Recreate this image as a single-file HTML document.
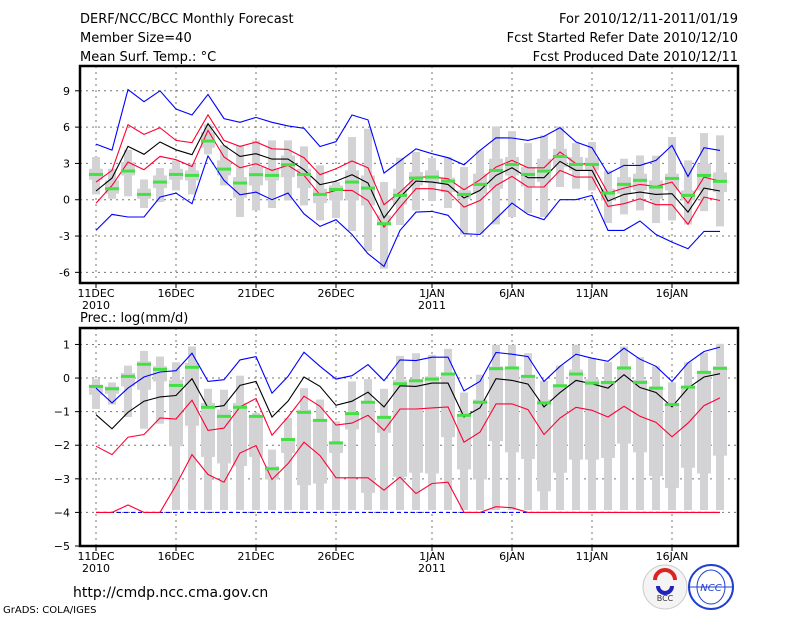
<!DOCTYPE html>
<html><head><meta charset="utf-8"><style>
body{margin:0;background:#fff;}
svg{display:block;font-family:"DejaVu Sans","Liberation Sans",sans-serif;}
</style></head><body>
<svg id="chart" width="800" height="618" viewBox="0 0 800 618">
<g id="hdr" font-size="13" fill="#000">
<text x="80" y="23">DERF/NCC/BCC Monthly Forecast</text>
<text x="80" y="42">Member Size=40</text>
<text x="80" y="61">Mean Surf. Temp.: °C</text>
<text x="738" y="23" text-anchor="end">For 2010/12/11-2011/01/19</text>
<text x="738" y="42" text-anchor="end">Fcst Started Refer Date 2010/12/10</text>
<text x="738" y="61" text-anchor="end">Fcst Produced Date 2010/12/11</text>
<text x="80" y="322">Prec.: log(mm/d)</text>
<text x="73" y="597" font-size="14">http://cmdp.ncc.cma.gov.cn</text>
<text x="3" y="613" font-size="10">GrADS: COLA/IGES</text>
</g>
<g>
<circle cx="665" cy="587" r="22" fill="#f4f4f4" stroke="#ccc"/>
<path d="M655 580 a10 10 0 1 1 20 0" fill="none" stroke="#d22" stroke-width="4"/>
<path d="M658 586 a7 7 0 1 0 14 0" fill="none" stroke="#22b" stroke-width="4"/>
<text x="665" y="601" font-size="8" text-anchor="middle" fill="#333">BCC</text>
</g>
<g>
<circle cx="711" cy="587" r="22" fill="#fff" stroke="#2040d0" stroke-width="2"/>
<ellipse cx="711" cy="587" rx="14" ry="17" fill="none" stroke="#2040d0"/>
<line x1="689" y1="587" x2="733" y2="587" stroke="#2040d0"/>
<text x="711" y="591" font-size="10" font-style="italic" text-anchor="middle" fill="#2040d0">NCC</text>
</g>
</svg>
<script>
const days=40;
const xLabels=["11DEC","16DEC","21DEC","26DEC","1JAN","6JAN","11JAN","16JAN"];
const xLabelIdx=[0,5,10,15,21,26,31,36];
const tTicks=[9,6,3,0,-3,-6];
const pTicks=[1,0,-1,-2,-3,-4,-5];
// Temperature series
const tBlueHi=[4.6,4.1,9.1,8.1,9.0,7.5,7.0,8.7,6.7,6.4,6.8,6.4,6.1,5.9,4.4,4.8,7.0,6.6,2.2,3.2,4.21,3.80,3.47,2.89,4.08,5.12,5.10,4.90,5.23,5.95,4.77,4.30,2.15,2.84,2.84,3.25,4.49,1.93,4.30,4.08];
const tRedHi=[1.46,2.42,6.2,5.4,5.95,4.9,4.71,7.02,4.9,4.41,4.77,4.21,4.16,3.47,2.07,2.56,3.2,2.64,-0.41,0.63,1.87,1.87,1.74,0.83,1.65,2.70,3.25,2.64,2.64,3.94,2.98,2.92,0.55,0.96,1.27,1.10,1.46,-0.28,1.87,1.54];
const tMean=[0.72,1.79,4.41,3.75,4.77,4.13,3.72,6.28,4.49,3.58,3.8,3.36,3.36,2.48,1.24,1.54,2.07,1.38,-1.49,0.22,1.54,1.46,1.27,0.14,0.77,2.01,2.64,1.82,1.82,3.17,2.42,2.42,-0.11,0.44,0.63,0.44,0.50,-1.02,0.96,0.72];
const tRedLo=[-0.28,1.18,3.11,2.48,3.58,3.31,2.75,5.73,3.53,2.64,2.98,2.42,2.84,2.01,0.41,0.77,0.77,-0.06,-2.26,-0.61,0.91,0.91,0.69,-0.61,-0.06,1.18,1.93,1.05,1.05,2.42,1.87,1.87,-0.55,-0.33,0.08,-0.41,-0.41,-2.04,0.22,-0.06];
const tBlueLo=[-2.53,-1.21,-1.43,-1.43,0.22,0.55,-0.33,3.61,1.6,0.41,0.63,0,0.55,-1.16,-2.2,-1.65,-2.87,-4.46,-5.51,-2.53,-1.02,-0.96,-1.29,-2.81,-2.87,-1.57,-0.28,-1.21,-1.65,0,0,0.36,-2.53,-2.53,-1.76,-2.87,-3.50,-4.05,-2.62,-2.62];
const tMedian=[2.09,0.91,2.37,0.44,1.46,2.09,2.01,4.85,2.53,1.38,2.07,2.01,2.89,2.09,0.44,0.85,1.46,0.96,-1.98,0.36,1.79,1.87,1.54,0.44,1.27,2.42,2.92,2.09,2.37,3.58,2.92,2.92,0.55,1.27,1.60,1.05,1.76,0.36,2.01,1.52];
const tMax=[3.53,2.56,4.13,1.68,2.62,3.25,2.98,6.23,4.49,4.49,4.90,4.90,4.90,4.41,2.84,1.46,5.18,5.87,1.46,3.47,3.94,3.44,3.53,2.70,4.08,6.06,5.67,4.68,5.32,6.06,4.68,4.77,2.42,3.39,3.66,3.64,5.18,3.25,5.51,5.32];
const tQ3=[2.56,1.60,3.11,0.91,2.01,2.56,2.42,5.59,3.25,1.87,2.70,2.56,3.66,2.56,0.91,1.18,2.42,2.01,-1.29,0.91,2.29,2.42,1.82,0.77,2.15,3.39,3.53,2.70,3.39,4.21,3.53,3.47,0.91,1.87,2.15,1.60,2.15,0.77,2.98,2.26];
const tQ1=[1.65,0.50,2.01,0.08,0.96,1.65,1.60,4.30,2.01,0.17,1.18,1.60,1.87,0.96,-0.28,-0.06,-0.06,-0.47,-2.12,-0.39,1.18,1.38,0.63,0.08,0.50,0.91,2.01,1.10,1.46,2.70,2.42,2.42,-0.06,0.50,0.77,0.08,0.77,-0.06,0.77,0.63];
const tMin=[0.44,0.08,0.28,-0.69,-0.19,0.77,0.44,3.75,1.18,-1.43,-0.88,-0.69,-0.06,-0.47,-1.71,-1.52,-2.59,-4.24,-5.70,-2.09,-0.88,-0.11,-0.69,-2.87,-2.81,-2.04,-1.43,-1.10,-1.43,1.05,0.91,0.77,-1.93,-1.21,-0.88,-1.93,-1.71,-2.04,-0.94,-2.20];
// Precipitation series
const pBlueHi=[-0.30,-0.74,-0.30,0.03,0.18,0.22,0.74,-0.10,-0.05,0.54,0.64,-0.45,0.05,0.77,0.35,-0.03,0.07,0.40,-0.08,0.54,0.52,0.62,0.62,-0.38,-0.10,0.76,0.71,0.64,-0.10,0.35,0.71,0.59,0.50,0.89,0.56,0.35,-0.10,0.45,0.79,0.92];
const pMean=[-1.09,-1.51,-1.02,-0.69,-0.56,-0.52,-0.02,-0.89,-0.82,-0.22,-0.10,-1.16,-0.69,0.03,-0.25,-0.81,-0.69,-0.42,-0.86,-0.23,-0.25,-0.15,-0.15,-1.16,-0.89,-0.02,-0.07,-0.18,-0.86,-0.43,-0.07,-0.17,-0.30,0.10,-0.28,-0.43,-0.86,-0.30,0.03,0.13];
const pRedHi=[-2.03,-2.28,-1.76,-1.68,-1.19,-1.22,-0.66,-1.56,-1.49,-0.86,-0.61,-1.70,-1.16,-0.54,-0.84,-1.40,-1.34,-1.11,-1.56,-0.92,-0.92,-0.89,-0.86,-1.91,-1.61,-0.77,-0.77,-0.94,-1.68,-1.19,-0.87,-0.96,-1.16,-0.84,-1.14,-1.32,-1.75,-1.34,-0.82,-0.59];
const pRedLo=[-4,-4,-3.78,-4,-4,-3.19,-2.28,-2.87,-3.10,-2.23,-2.01,-3.02,-2.55,-1.91,-2.31,-2.97,-2.97,-2.97,-3.34,-2.95,-3.44,-3.14,-3.10,-4,-4,-3.83,-3.86,-4,-4,-4,-4,-4,-4,-4,-4,-4,-4,-4,-4,-4];
const pBlueLo=[-4,-4,-4,-4,-4,-4,-4,-4,-4,-4,-4,-4,-4,-4,-4,-4,-4,-4,-4,-4,-4,-4,-4,-4,-4,-4,-4,-4,-4,-4,-4,-4,-4,-4,-4,-4,-4,-4,-4,-4];
const pMedian=[-0.25,-0.32,0.05,0.41,0.26,-0.22,0.32,-0.87,-1.14,-0.87,-1.14,-2.70,-1.83,-1.02,-1.26,-1.93,-1.06,-0.72,-1.17,-0.17,-0.08,-0.03,0.12,-1.11,-0.72,0.28,0.30,0.05,-0.74,-0.23,0.12,-0.15,-0.13,0.30,-0.13,-0.30,-0.79,-0.27,0.17,0.29];
const pMax=[-0.03,-0.13,0.37,0.81,0.64,0.47,0.94,-0.32,-0.35,0.07,-1.04,-2.13,-1.19,-0.30,-0.64,-1.29,-0.10,-0.03,-0.32,0.66,0.74,0.69,0.87,-0.43,0.10,0.99,0.99,0.74,-0.08,0.37,0.99,0.59,0.47,0.94,0.62,0.35,-0.13,0.47,0.76,1.02];
const pQ3=[-0.20,-0.25,0.15,0.50,0.35,-0.05,0.45,-0.74,-0.94,-0.74,-1.14,-2.62,-1.78,-0.94,-1.24,-1.93,-1.02,-0.69,-1.14,-0.05,-0.05,0.05,0.15,-1.14,-0.64,0.35,0.27,0.07,-0.64,-0.25,0.25,-0.03,-0.15,0.35,-0.05,-0.25,-0.74,-0.25,0.15,0.35];
const pQ1=[-0.50,-0.47,-0.25,-0.35,-0.10,-2.03,-1.42,-2.35,-2.54,-2.62,-2.35,-3.02,-2.23,-3.19,-3.14,-2.23,-1.53,-3.42,-1.63,-2.94,-2.82,-2.84,-1.76,-2.72,-3.02,-1.88,-2.21,-2.41,-3.37,-2.82,-2.43,-2.43,-2.38,-1.95,-2.21,-2.92,-3.27,-2.67,-2.84,-2.31];
const pMin=[-0.92,-0.79,-1.16,-1.51,-1.36,-3.93,-3.93,-3.93,-3.93,-3.93,-3.93,-3.93,-3.93,-3.93,-3.93,-3.93,-3.93,-3.93,-3.93,-3.93,-3.93,-3.93,-3.93,-3.93,-3.93,-3.93,-3.93,-3.93,-3.93,-3.93,-3.93,-3.93,-3.93,-3.93,-3.93,-3.93,-3.93,-3.93,-3.93,-3.93];

const NS="http://www.w3.org/2000/svg";
const svg=document.getElementById('chart');
function el(tag,attrs,parent){const e=document.createElementNS(NS,tag);for(const k in attrs)e.setAttribute(k,attrs[k]);(parent||svg).appendChild(e);return e;}
const X0=80,X1=738;
function xs(i){return 96+16*i;}

function panel(name,top,bot,vTop,vBot,ticks,series,boxes,tickFmt){
  const g=el('g',{});
  
  
  const ys=v=>top+(vTop-v)/(vTop-vBot)*(bot-top);
  // gridlines
  ticks.forEach(t=>{const y=ys(t);
    if(y>top+2&&y<bot-2){const l=el('line',{x1:X0,x2:X1,y1:y,y2:y,stroke:'#777','stroke-dasharray':'2,4','stroke-width':1},g);
      }
    const tk=el('line',{x1:X0-5,x2:X0,y1:y,y2:y,stroke:'#000'},g);
    
    const tx=el('text',{x:X0-10,y:y+4,'font-size':11,'text-anchor':'end'},g);
    tx.textContent=tickFmt(t);
    
  });
  xLabelIdx.forEach((d,k)=>{const x=xs(d);
    const l=el('line',{x1:x,x2:x,y1:top,y2:bot,stroke:'#777','stroke-dasharray':'2,4'},g);
    
    const tk=el('line',{x1:x,x2:x,y1:bot,y2:bot+5,stroke:'#000'},g);
    
    const tx=el('text',{x:x,y:bot+14,'font-size':11,'text-anchor':'middle'},g);
    tx.textContent=xLabels[k];
    
  });
  [[0,'2010'],[21,'2011']].forEach(([d,s])=>{const tx=el('text',{x:xs(d),y:bot+26,'font-size':11,'text-anchor':'middle'},g);
    tx.textContent=s;});
  // boxes
  for(let i=0;i<days;i++){const x=xs(i);
    const w=el('rect',{x:x-4,width:8,y:ys(boxes.max[i]),height:Math.max(0,ys(boxes.min[i])-ys(boxes.max[i])),fill:'#d3d3d6'},g);
    
    const b=el('rect',{x:x-7,width:14,y:ys(boxes.q3[i]),height:Math.max(0,ys(boxes.q1[i])-ys(boxes.q3[i])),fill:'#d3d3d6'},g);
    
  }
  series.forEach(s=>{const pts=s.data.map((v,i)=>xs(i)+','+ys(v).toFixed(1)).join(' ');
    const p=el('polyline',{points:pts,fill:'none',stroke:s.color,'stroke-width':1.1},g);
    if(s.dash)p.setAttribute('stroke-dasharray',s.dash);
    });
  for(let i=0;i<days;i++){
    const m=el('rect',{x:xs(i)-7,width:14,y:ys(boxes.med[i])-1.5,height:3,fill:'#44e044'},g);
    
  }
  const f=el('rect',{x:X0,y:top,width:X1-X0,height:bot-top,fill:'none',stroke:'#000','stroke-width':2.5},g);
  
}
panel('temperature',66,283,11.05,-6.88,tTicks,[
 {data:tBlueLo,color:'#0000ff',name:'temp-min-line'},
 {data:tBlueHi,color:'#0000ff',name:'temp-max-line'},
 {data:tRedLo,color:'#ff0033',name:'temp-lower-bound-line'},
 {data:tRedHi,color:'#ff0033',name:'temp-upper-bound-line'},
 {data:tMean,color:'#000',name:'temp-mean-line'}],
 {max:tMax,q3:tQ3,q1:tQ1,min:tMin,med:tMedian},t=>String(t));
panel('precipitation',328,546,1.49,-5.0,pTicks,[
 {data:pBlueLo,color:'#0000ff',name:'prec-min-line',dash:'4,3'},
 {data:pRedLo,color:'#ff0033',name:'prec-lower-bound-line'},
 {data:pBlueHi,color:'#0000ff',name:'prec-max-line'},
 {data:pRedHi,color:'#ff0033',name:'prec-upper-bound-line'},
 {data:pMean,color:'#000',name:'prec-mean-line'}],
 {max:pMax,q3:pQ3,q1:pQ1,min:pMin,med:pMedian},t=>String(t).replace('-','−'));
</script>
</body></html>
